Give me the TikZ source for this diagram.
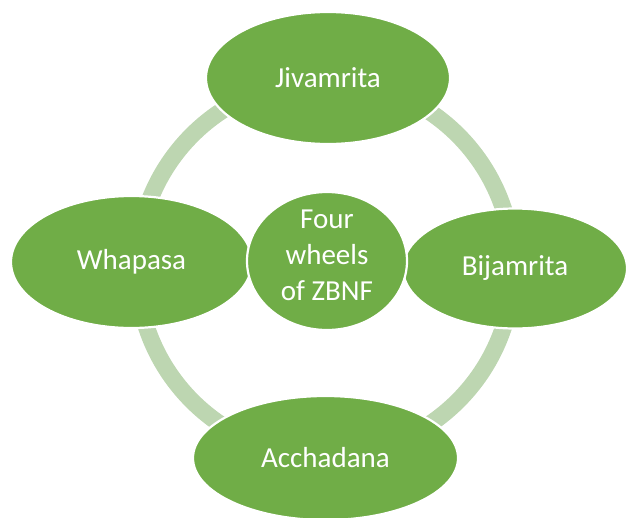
\documentclass[tikz,border=0pt]{standalone}
\usepackage{fontspec}
\setmainfont{Carlito}
\usetikzlibrary{shapes.geometric}
\definecolor{leaf}{HTML}{70AD47}
\definecolor{ringc}{HTML}{BDD6B1}
\tikzset{
  wheel/.style={ellipse, fill=leaf, draw=white, line width=2.2pt, inner sep=0pt,
    text=white, font=\fontsize{29}{36}\selectfont},
  wtext/.style={text=white, font=\fontsize{29}{36}\selectfont, align=center, inner sep=0pt},
}
\begin{document}
\begin{tikzpicture}[x=1pt,y=-1pt]
\useasboundingbox (0,0) rectangle (626,517);
\coordinate (ringc) at (325,268);
\draw[ringc, line width=17pt] (ringc) circle[radius=188];
\node[wheel, minimum width=244, minimum height=132] (jiv) at (328,78) {Jivamrita};
\node[wheel, minimum width=224, minimum height=120] (bij) at (515,268.5) {Bijamrita};
\node[wheel, minimum width=265, minimum height=124] (acc) at (325.5,458) {Acchadana};
\node[wheel, minimum width=241, minimum height=132] (wha) at (131.5,262) {Whapasa};
\node[wheel, minimum width=160, minimum height=138] (ctr) at (327,261) {};
\node[wtext] (ctrtext) at (327,255) {Four\\wheels\\of ZBNF};
\end{tikzpicture}
\end{document}
